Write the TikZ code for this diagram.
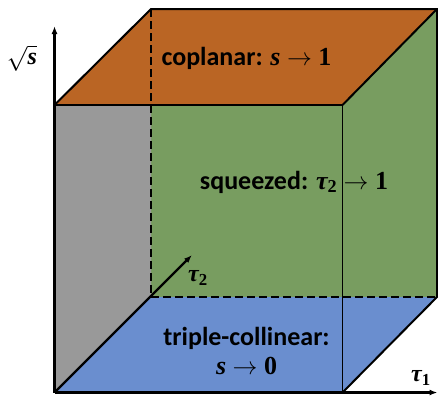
\documentclass[tikz,border=0pt]{standalone}
\usepackage{fontspec}
\setmainfont{Carlito}
\newfontfamily\mfont{Liberation Serif}
\newcommand\mvar[1]{{\mfont\bfseries\itshape #1}}
\newcommand\mnum[1]{{\mfont\bfseries #1}}
\newcommand\marr{\hspace{0.25em}$\rightarrow$\hspace{0.25em}}
\usetikzlibrary{arrows.meta}
\definecolor{topc}{RGB}{186,101,36}
\definecolor{greenc}{RGB}{120,157,96}
\definecolor{grayc}{RGB}{153,153,153}
\definecolor{bluec}{RGB}{106,142,207}
\tikzset{
  edge/.style={line width=2pt, black},
  thinedge/.style={line width=1.4pt, black},
  hidden/.style={line width=2pt, black, dash pattern=on 8pt off 4pt},
  axis/.style={line width=2.4pt, black, -{Latex[length=8pt,width=6pt]}},
  lab/.style={font=\bfseries\fontsize{26}{29}\selectfont, align=center, inner sep=0pt},
  axlab/.style={font=\fontsize{24}{26}\selectfont, inner sep=0pt}
}
\begin{document}
\begin{tikzpicture}[x=1pt,y=-1pt]
\useasboundingbox (0,0) rectangle (438,397);
\coordinate (O) at (54.5,392.5);
\coordinate (A) at (342.5,392.5);
\coordinate (B) at (342.5,105);
\coordinate (C) at (54.5,105);
\coordinate (Ob) at (151,297);
\coordinate (Ab) at (437,297);
\coordinate (Bb) at (437,9);
\coordinate (Cb) at (151,9);
\coordinate (Ytip) at (54.5,26);
\coordinate (Xtip) at (437.5,392.5);
\coordinate (Ztip) at (192,255);
% faces
\fill[greenc] (Cb) rectangle (Ab);
\fill[greenc] (A) -- (B) -- (Bb) -- (Ab) -- cycle;
\fill[grayc] (O) -- (C) -- (Cb) -- (Ob) -- cycle;
\fill[topc] (C) -- (B) -- (Bb) -- (Cb) -- cycle;
\fill[bluec] (O) -- (A) -- (Ab) -- (Ob) -- cycle;
% hidden edges
\draw[hidden] (Cb) -- (Ob) -- (Ab);
% visible edges
\draw[edge] (C) -- (B);
\draw[thinedge] (B) -- (A);
\draw[edge] (C) -- (Cb) -- (Bb) -- (Ab) -- (A);
\draw[edge] (B) -- (Bb);
% axes
\draw[axis] (O) -- (Ytip);
\draw[axis] (O) -- (Xtip);
\draw[axis] (O) -- (Ztip);
% labels
\node[axlab] (ls) at (22,58) {$\sqrt{\hbox{\mvar{s}}}$};
\node[axlab] (lt1) at (421,378) {\mvar{τ}\mnum{\textsubscript{1}}};
\node[axlab] (lt2) at (198,278) {\mvar{τ}\mnum{\textsubscript{2}}};
\node[lab] (cop) at (246.5,58) {coplanar: \mvar{s}\marr\mnum{1}};
\node[lab] (sq) at (294,182) {squeezed: \mvar{τ}\mnum{\textsubscript{2}}\marr\mnum{1}};
\node[lab] (tc) at (246.5,351) {triple-collinear:\\\mvar{s}\marr\mnum{0}};
\end{tikzpicture}
\end{document}
